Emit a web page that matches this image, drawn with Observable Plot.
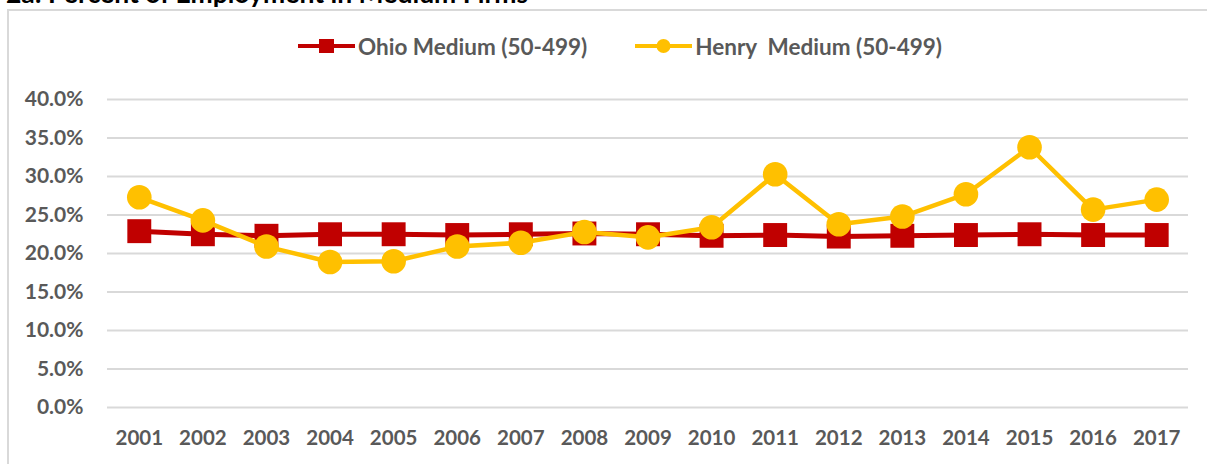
<!DOCTYPE html>
<html><head><meta charset="utf-8">
<script src="https://cdn.jsdelivr.net/npm/d3@7"></script>
<script src="https://cdn.jsdelivr.net/npm/@observablehq/plot@0.6"></script>
<style>
html,body{margin:0;padding:0;background:#fff;overflow:hidden;width:1207px;height:464px;position:relative;}
#title{position:absolute;left:6px;top:-20px;font:bold 26.5px Lato;line-height:1;color:#000;white-space:nowrap;}
#frame{position:absolute;left:7px;top:9px;width:1230px;height:480px;border:2px solid #d9d9d9;box-sizing:border-box;}
#legend{height:59px;box-sizing:border-box;padding-top:24px;padding-left:289px;display:flex;align-items:flex-start;font:bold 22.5px Lato;color:#595959;}
.item{display:flex;align-items:center;height:22px;white-space:pre;}
.item svg{display:block;margin-right:3px;}
#chart svg{display:block;}
</style></head>
<body>
<div id="title">2a: Percent of Employment in Medium Firms</div>
<div id="frame">
  <div id="legend"></div>
  <div id="chart"></div>
</div>
<script>
const years = ["2001","2002","2003","2004","2005","2006","2007","2008","2009","2010","2011","2012","2013","2014","2015","2016","2017"];
const ohio  = [22.9,22.5,22.3,22.5,22.5,22.4,22.5,22.6,22.5,22.3,22.4,22.2,22.3,22.4,22.5,22.4,22.4];
const henry = [27.3,24.3,20.9,18.9,19.0,20.9,21.4,22.8,22.1,23.4,30.3,23.8,24.8,27.7,33.8,25.7,27.0];
const yTicks = [0,5,10,15,20,25,30,35,40];
const seriesNames = ["Ohio Medium (50-499)","Henry  Medium (50-499)"];
const seriesColors = ["#C00000","#FFC000"];

const ohioData = years.map((year,i)=>({year, value:ohio[i]}));
const henryData = years.map((year,i)=>({year, value:henry[i]}));

// legend
const legend = document.getElementById("legend");
seriesNames.forEach((name,i)=>{
  const item = document.createElement("div");
  item.className = "item";
  if (i>0) item.style.marginLeft = "48px";
  const ns = "http://www.w3.org/2000/svg";
  const s = document.createElementNS(ns,"svg");
  s.setAttribute("width",57); s.setAttribute("height",22);
  const ln = document.createElementNS(ns,"line");
  ln.setAttribute("x1",0); ln.setAttribute("x2",57); ln.setAttribute("y1",11); ln.setAttribute("y2",11);
  ln.setAttribute("stroke",seriesColors[i]); ln.setAttribute("stroke-width",4);
  s.appendChild(ln);
  let m;
  if (i===0){ m=document.createElementNS(ns,"rect"); m.setAttribute("x",21); m.setAttribute("y",4); m.setAttribute("width",15); m.setAttribute("height",14);}
  else { m=document.createElementNS(ns,"circle"); m.setAttribute("cx",28.5); m.setAttribute("cy",11); m.setAttribute("r",7);}
  m.setAttribute("fill",seriesColors[i]);
  s.appendChild(m);
  item.appendChild(s);
  const t = document.createElement("span"); t.textContent = name;
  item.appendChild(t);
  legend.appendChild(item);
});

const fmt = d => d.toFixed(1) + "%";
const chart = Plot.plot({
  width: 1198, height: 394,
  marginLeft: 98, marginRight: 19, marginTop: 29, marginBottom: 57,
  style: {fontFamily: "Lato", fontWeight: "bold", fontSize: "20.5px", color: "#595959", background: "transparent", overflow: "visible"},
  x: {type: "point", domain: years, padding: 0.5, round: false, label: null},
  y: {domain: [0, 40], label: null},
  marks: [
    Plot.ruleY(yTicks, {stroke: "#d9d9d9", strokeWidth: 2}),
    Plot.axisY(yTicks, {tickSize: 0, tickPadding: 24, tickFormat: fmt, label: null, fontSize: 21}),
    Plot.axisX({tickSize: 0, tickPadding: 23, label: null}),
    Plot.line(ohioData, {x: "year", y: "value", stroke: seriesColors[0], strokeWidth: 5}),
    Plot.dot(ohioData, {x: "year", y: "value", symbol: "square", r: 13.5, fill: seriesColors[0], stroke: "none"}),
    Plot.line(henryData, {x: "year", y: "value", stroke: seriesColors[1], strokeWidth: 4.5}),
    Plot.dot(henryData, {x: "year", y: "value", symbol: "circle", r: 12.3, fill: seriesColors[1], stroke: "none"})
  ]
});
document.getElementById("chart").appendChild(chart);
</script>
</body></html>
